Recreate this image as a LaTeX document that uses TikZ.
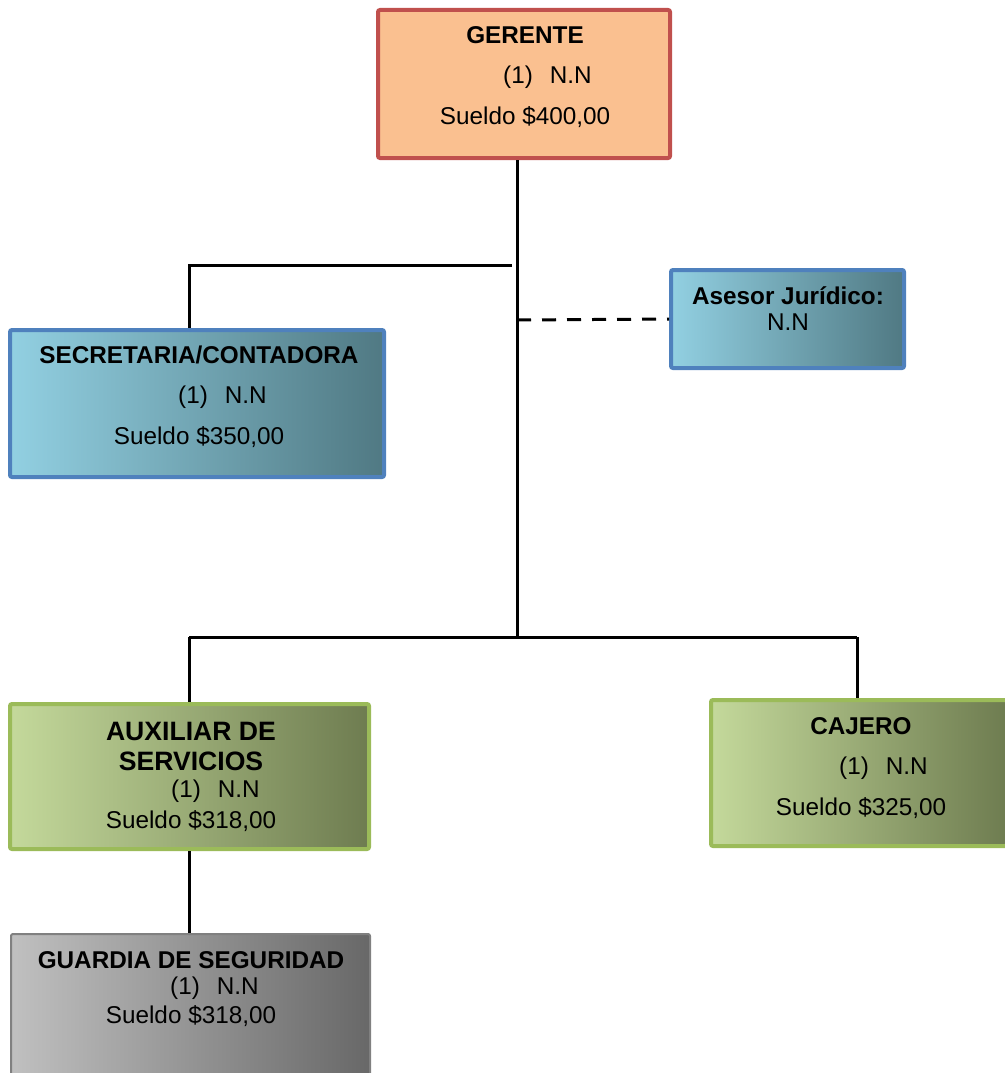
\documentclass[tikz,border=0pt]{standalone}
\usepackage{fontspec}
\setmainfont{Liberation Sans}
\begin{document}
\begin{tikzpicture}[x=1pt,y=-1pt,
  box/.style={rectangle,rounded corners=2pt,inner sep=0pt},
  grad/.style={shading=axis,shading angle=90},
  redbox/.style={box,draw={rgb,255:red,192;green,80;blue,77},line width=4pt,fill={rgb,255:red,250;green,192;blue,144}},
  bluebox/.style={box,grad,draw={rgb,255:red,79;green,129;blue,189},line width=4pt,
    left color={rgb,255:red,146;green,208;blue,226},right color={rgb,255:red,80;green,121;blue,131}},
  greenbox/.style={box,grad,draw={rgb,255:red,155;green,187;blue,89},line width=4pt,
    left color={rgb,255:red,196;green,217;blue,155},right color={rgb,255:red,110;green,124;blue,80}},
  graybox/.style={box,grad,draw={rgb,255:red,128;green,128;blue,128},line width=2pt,
    left color={rgb,255:red,192;green,192;blue,192},right color={rgb,255:red,104;green,104;blue,104}},
  txt/.style={inner sep=0pt,font=\fontsize{24.3}{29}\selectfont},
  ttl/.style={txt,font=\fontsize{24.3}{30}\selectfont\bfseries},
  bigttl/.style={txt,font=\fontsize{26.6}{30}\selectfont\bfseries},
  conn/.style={line width=3pt},
  dconn/.style={line width=3pt,dash pattern=on 14pt off 11pt}]
\useasboundingbox (0,0) rectangle (1004,1073);

% boxes
\node[redbox,minimum width=292pt,minimum height=148pt] (ger) at (524,84) {};
\node[bluebox,minimum width=374pt,minimum height=147pt] (sec) at (197,403.5) {};
\node[bluebox,minimum width=233pt,minimum height=98pt] (ase) at (787.5,319) {};
\node[greenbox,minimum width=359pt,minimum height=145pt] (aux) at (189.5,776.5) {};
\node[greenbox,minimum width=296pt,minimum height=146pt] (caj) at (859,773) {};
\node[graybox,minimum width=359pt,minimum height=152pt] (gua) at (190.5,1010) {};

% texts
\node[ttl] (gert) at (525,35) {GERENTE};
\node[txt,anchor=west] (gern) at (503,77) {(1)\hspace{17pt}N.N};
\node[txt] (gers) at (525,117) {Sueldo \$400,00};

\node[ttl] (sect) at (199,355) {SECRETARIA/CONTADORA};
\node[txt,anchor=west] (secn) at (178,397) {(1)\hspace{17pt}N.N};
\node[txt] (secs) at (199,437) {Sueldo \$350,00};

\node[ttl] (aset) at (788,296) {Asesor Jurídico:};
\node[txt] (asen) at (788,322) {N.N};

\node[bigttl] (auxt1) at (191,731) {AUXILIAR DE};
\node[bigttl] (auxt2) at (191,761) {SERVICIOS};
\node[txt,anchor=west] (auxn) at (171,791) {(1)\hspace{17pt}N.N};
\node[txt] (auxs) at (191,821) {Sueldo \$318,00};

\node[ttl] (cajt) at (861,726) {CAJERO};
\node[txt,anchor=west] (cajn) at (839,768) {(1)\hspace{17pt}N.N};
\node[txt] (cajs) at (861,808) {Sueldo \$325,00};

\node[ttl] (guat) at (191,960) {GUARDIA DE SEGURIDAD};
\node[txt,anchor=west] (guan) at (170,988) {(1)\hspace{17pt}N.N};
\node[txt] (guas) at (191,1016) {Sueldo \$318,00};

% connectors
\coordinate (trunk) at (517,637);
\coordinate (secR) at (512,265);
\coordinate (secL) at (189,265);
\coordinate (aseJ) at (517,320);
\coordinate (botL) at (189,637);
\coordinate (botR) at (857,637);

\draw[conn] (ger.south -| trunk) -- (trunk);
\draw[conn] (secR) -- (secL) -- (secL |- sec.north);
\draw[dconn] (aseJ) -- (ase.west);
\draw[conn] (botL) -- (botR);
\draw[conn] (botL) -- (botL |- aux.north);
\draw[conn] (botR) -- (botR |- caj.north);
\draw[conn] (aux.south -| botL) -- (botL |- gua.north);
\end{tikzpicture}
\end{document}
